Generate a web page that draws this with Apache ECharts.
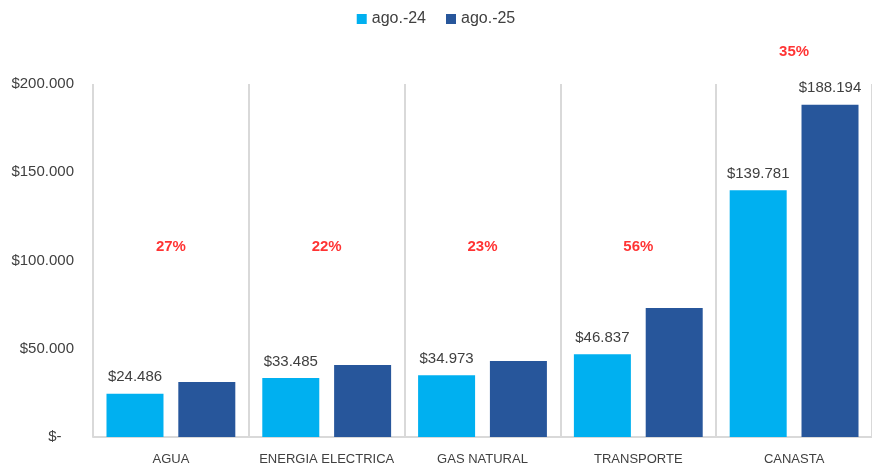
<!DOCTYPE html>
<html>
<head>
<meta charset="utf-8">
<script src="https://cdn.jsdelivr.net/npm/echarts@6/dist/echarts.min.js"></script>
<style>
  html, body { margin: 0; padding: 0; background: #fff; }
  #chart { width: 872px; height: 468px; }
</style>
</head>
<body>
<div id="chart"></div>
<script>
// datos
let categorias = ['AGUA', 'ENERGIA ELECTRICA', 'GAS NATURAL', 'TRANSPORTE', 'CANASTA'];
let ago24 = [24486, 33485, 34973, 46837, 139781];
let ago25 = [31097, 40852, 43017, 73066, 188194];
let variacion = ['27%', '22%', '23%', '56%', '35%'];
// altura (en valor del eje) donde van los % en rojo
let alturaVar = [107600, 107600, 107600, 107600, 218000];
let ticksY = [0, 50000, 100000, 150000, 200000];

let fuente = '"Liberation Sans", Arial, sans-serif';

let fmt = function (v) {
    if (v === 0) return '$-   ';
    return '$' + String(v).replace(/\B(?=(\d{3})+(?!\d))/g, '.');
};

let chart = echarts.init(document.getElementById('chart'));

chart.setOption({
    animation: false,
    textStyle: { fontFamily: fuente },
    legend: {
        data: ['ago.-24', 'ago.-25'],
        top: 6,
        left: 'center',
        itemWidth: 10,
        itemHeight: 10,
        itemGap: 20,
        icon: 'rect',
        textStyle: { fontSize: 16, color: '#404040', fontFamily: fuente }
    },
    // right negativo: la ultima linea vertical queda fuera del lienzo, como en el original
    grid: { left: 93, right: -3, top: 84, bottom: 31, containLabel: false },
    xAxis: {
        type: 'category',
        data: categorias,
        axisLine: { lineStyle: { color: '#d9d9d9', width: 2 } },
        axisTick: { show: false },
        splitLine: { show: true, lineStyle: { color: '#d9d9d9', width: 2 } },
        axisLabel: { color: '#404040', fontSize: 13, margin: 16, fontFamily: fuente, interval: 0 }
    },
    yAxis: {
        type: 'value',
        min: ticksY[0],
        max: ticksY[ticksY.length - 1],
        interval: 50000,
        axisLine: { show: false },
        axisTick: { show: false },
        splitLine: { show: false },
        axisLabel: { color: '#404040', fontSize: 15, margin: 19, fontFamily: fuente, formatter: fmt }
    },
    series: [
        {
            name: 'ago.-24',
            type: 'bar',
            data: ago24,
            barWidth: 57,
            barGap: '26%',
            itemStyle: { color: '#00b0f0' },
            label: {
                show: true, position: 'top', distance: 9,
                color: '#404040', fontSize: 15, fontFamily: fuente,
                formatter: function (p) { return fmt(p.value); }
            }
        },
        {
            name: 'ago.-25',
            type: 'bar',
            data: ago25.map(function (v, i) {
                return i === ago25.length - 1
                    ? { value: v, label: { show: true } }
                    : v;
            }),
            barWidth: 57,
            itemStyle: { color: '#27569b' },
            label: {
                show: false, position: 'top', distance: 9,
                color: '#404040', fontSize: 15, fontFamily: fuente,
                formatter: function (p) { return fmt(p.value); }
            }
        },
        {
            name: 'var',
            type: 'scatter',
            data: alturaVar,
            symbolSize: 1,
            clip: false,
            silent: true,
            itemStyle: { color: 'rgba(0,0,0,0)' },
            label: {
                show: true, position: 'inside',
                color: '#ff0000', fontWeight: 'bold', fontSize: 15, fontFamily: fuente,
                formatter: function (p) { return variacion[p.dataIndex]; }
            }
        }
    ]
});
</script>
</body>
</html>
